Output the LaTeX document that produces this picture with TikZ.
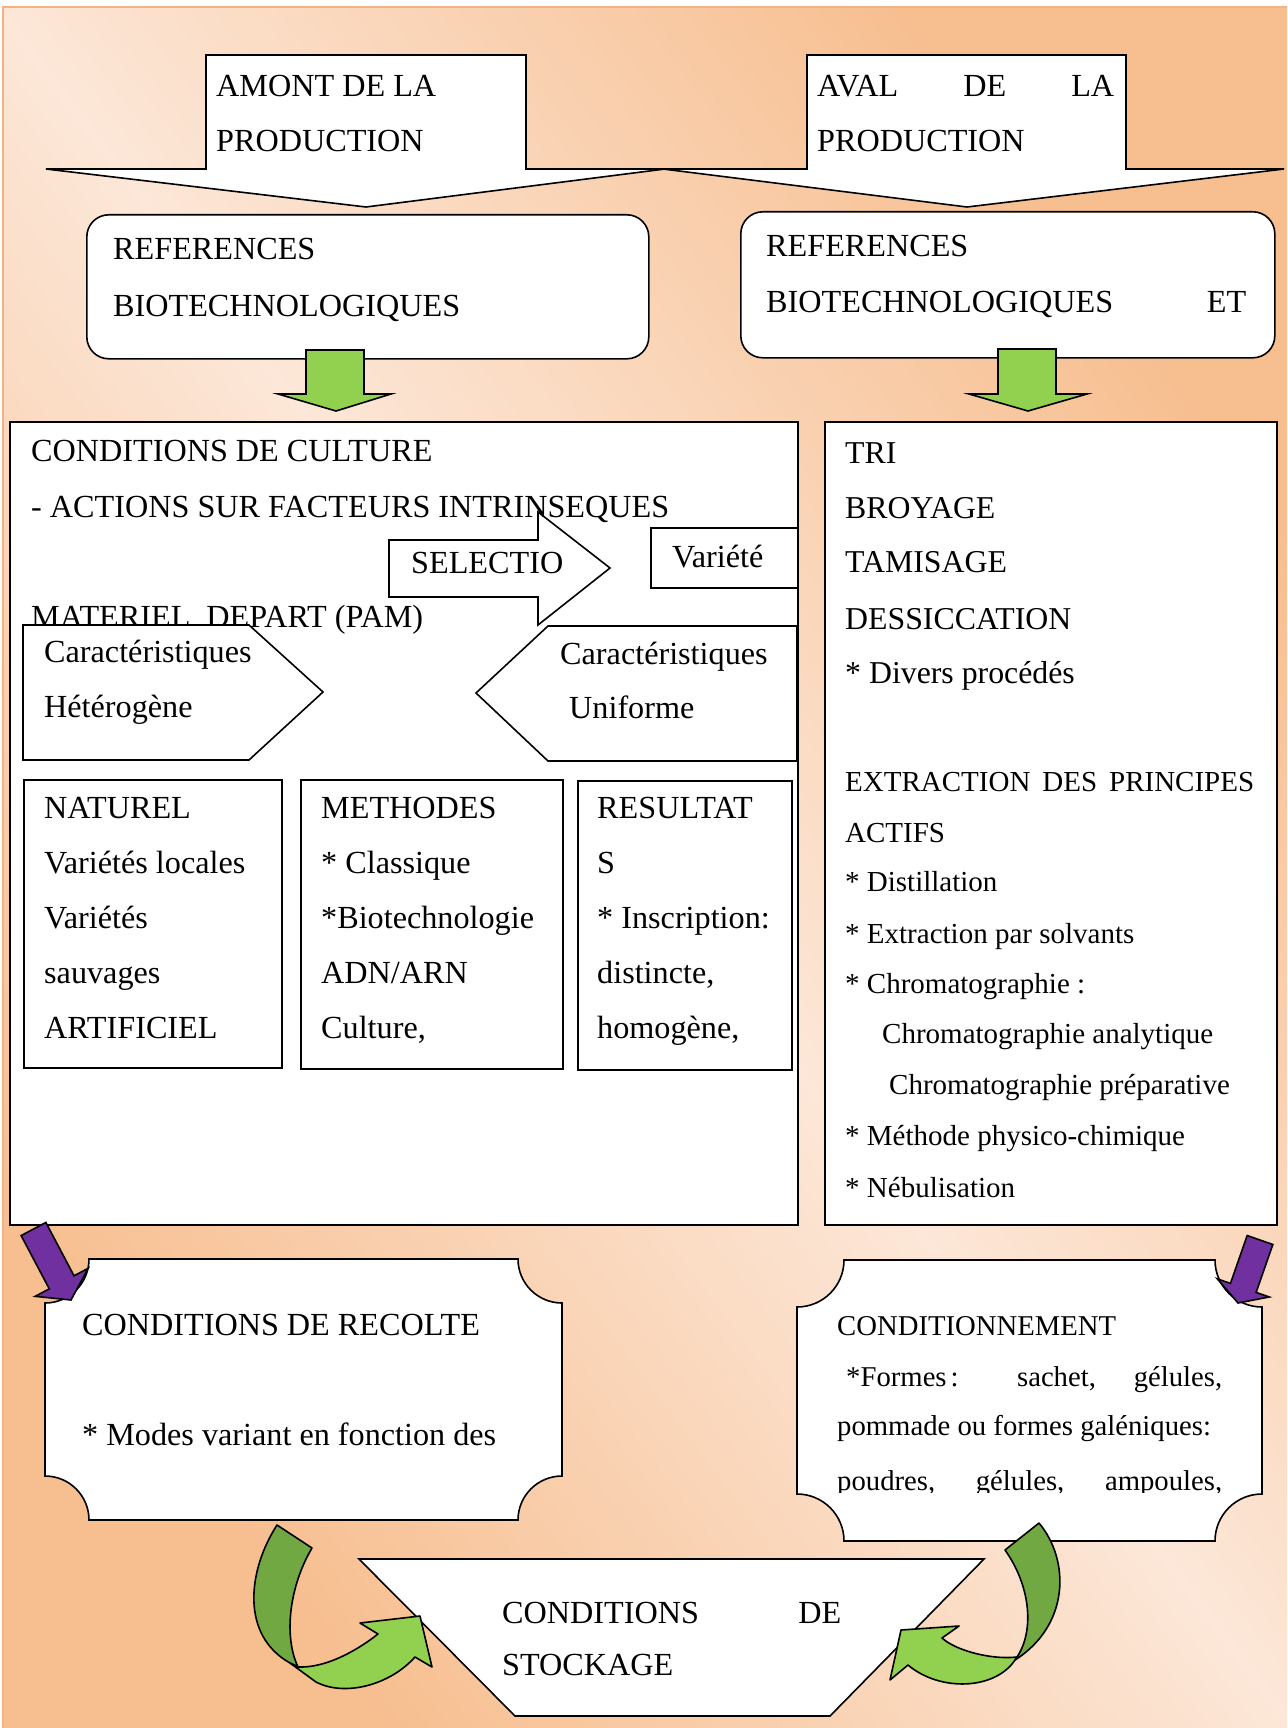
\documentclass[tikz,border=0pt]{standalone}
\usepackage{fontspec}
\setmainfont{Liberation Serif}
\usetikzlibrary{calc}
\definecolor{bgdark}{RGB}{247,190,143}
\definecolor{bglight}{RGB}{252,231,216}
\definecolor{framecol}{RGB}{244,177,131}
\definecolor{lgreen}{RGB}{146,208,80}
\definecolor{dgreen}{RGB}{114,168,66}
\definecolor{purp}{RGB}{112,48,160}

\newcommand\plaque[6][]{%
 \draw[#1] ({#2+#6},#3) -- ({#4-#6},#3)
 .. controls ({#4-#6},{#3+0.5523*#6}) and ({#4-0.5523*#6},{#3+#6}) .. (#4,{#3+#6})
 -- (#4,{#5-#6})
 .. controls ({#4-0.5523*#6},{#5-#6}) and ({#4-#6},{#5-0.5523*#6}) .. ({#4-#6},#5)
 -- ({#2+#6},#5)
 .. controls ({#2+#6},{#5-0.5523*#6}) and ({#2+0.5523*#6},{#5-#6}) .. (#2,{#5-#6})
 -- (#2,{#3+#6})
 .. controls ({#2+0.5523*#6},{#3+#6}) and ({#2+#6},{#3+0.5523*#6}) .. ({#2+#6},#3)
 -- cycle;}

\newcommand\blockarrow[7][]{%
 \coordinate (#2-s) at #3;
 \coordinate (#2-e) at #4;
 \coordinate (#2-h) at ($(#2-e)!#7!(#2-s)$);
 \draw[#1] ($(#2-s)!#5!90:(#2-e)$) -- ($(#2-h)!#5!90:(#2-e)$) -- ($(#2-h)!#6!90:(#2-e)$)
 -- (#2-e) -- ($(#2-h)!#6!-90:(#2-e)$) -- ($(#2-h)!#5!-90:(#2-e)$) -- ($(#2-s)!#5!-90:(#2-e)$) -- cycle;}

\begin{document}
\begin{tikzpicture}[x=1pt,y=-1pt,
 shapeline/.style={draw=black, line width=1.6pt},
 wbox/.style={shapeline, fill=white, inner sep=0pt, anchor=north west},
 tx/.style={anchor=base west, inner sep=0pt, font=\fontsize{32.2}{38}\selectfont},
 txr/.style={tx, font=\fontsize{31.8}{38}\selectfont},
 txs/.style={tx, font=\fontsize{29}{35}\selectfont},
 txc/.style={tx, font=\fontsize{28.7}{34}\selectfont},
]
\useasboundingbox (0,0) rectangle (1287,1728);
\fill[white] (0,0) rectangle (1287,1728);
\shade[top color=bgdark, bottom color=bgdark, middle color=bglight, shading angle=-53] (3,7) rectangle (1287,1728);
\draw[framecol, line width=2pt] (3,1728) -- (3,7) -- (1287,7);

% top arrows
\draw[shapeline, fill=white] (206,55) -- (526,55) -- (526,169) -- (665,169) -- (366,207) -- (46,169) -- (206,169) -- cycle;
\draw[shapeline, fill=white] (807,55) -- (1126,55) -- (1126,169) -- (1284,169) -- (967,207) -- (663,169) -- (807,169) -- cycle;
\node[tx] (amont1) at (216,97) {AMONT DE LA};
\node[tx] (amont2) at (216,152) {PRODUCTION};
\node[tx] (aval1) at (817,97) {\makebox[297pt][s]{AVAL DE LA}};
\node[tx] (aval2) at (817,152) {PRODUCTION};

% references boxes
\node[wbox, rounded corners=22pt, minimum width=562pt, minimum height=144pt] (refL) at (86,214) {};
\node[wbox, rounded corners=22pt, minimum width=534pt, minimum height=146pt] (refR) at (740,211) {};
\node[tx] (refL1) at (113,260) {REFERENCES};
\node[tx] (refL2) at (113,316) {BIOTECHNOLOGIQUES};
\node[tx] (refR1) at (766,257) {REFERENCES};
\node[tx] (refR2) at (766,312) {\makebox[480pt][s]{BIOTECHNOLOGIQUES ET}};

% green down arrows
\draw[shapeline, fill=lgreen] (306,350) -- (364,350) -- (364,394) -- (391,394) -- (336,411) -- (278,394) -- (306,394) -- cycle;
\draw[shapeline, fill=lgreen] (998,349) -- (1056,349) -- (1056,394) -- (1087,394) -- (1028,411) -- (969,394) -- (998,394) -- cycle;

% conditions de culture
\node[wbox, minimum width=788pt, minimum height=803pt] (culture) at (9,421) {};
\draw[shapeline, fill=white] (389,540) -- (538,540) -- (538,512) -- (610,568) -- (538,625) -- (538,597) -- (389,597) -- cycle;
\node[tx] (cc1) at (31,461) {CONDITIONS DE CULTURE};
\node[tx] (cc2) at (31,517) {- ACTIONS SUR FACTEURS INTRINSEQUES};
\node[tx] (cc3) at (31,627) {MATERIEL\hspace{8pt} DEPART (PAM)};
\node[tx] (sel) at (411,573) {SELECTIO};
\node[wbox, minimum width=147pt, minimum height=60pt] (varbox) at (650,527) {};
\node[tx] (var) at (672,567) {Variété};
\draw[shapeline, fill=white] (23,625) -- (249,625) -- (323,692) -- (249,760) -- (23,760) -- cycle;
\node[tx] (carL1) at (44,662) {Caractéristiques};
\node[tx] (carL2) at (44,717) {Hétérogène};
\draw[shapeline, fill=white] (797,626) -- (548,626) -- (476,693) -- (548,761) -- (797,761) -- cycle;
\node[tx] (carR1) at (560,664) {Caractéristiques};
\node[tx] (carR2) at (569,718) {Uniforme};

\node[wbox, minimum width=258pt, minimum height=288pt] (nat) at (23,779) {};
\node[wbox, minimum width=262pt, minimum height=289pt] (meth) at (300,779) {};
\node[wbox, minimum width=214pt, minimum height=289pt] (res) at (577,780) {};
\node[tx] (n1) at (44,818) {NATUREL};
\node[tx] (n2) at (44,873) {Variétés locales};
\node[tx] (n3) at (44,928) {Variétés};
\node[tx] (n4) at (44,983) {sauvages};
\node[tx] (n5) at (44,1038) {ARTIFICIEL};
\node[tx] (m1) at (321,818) {METHODES};
\node[tx] (m2) at (321,873) {* Classique};
\node[tx] (m3) at (321,928) {*Biotechnologie};
\node[tx] (m4) at (321,983) {ADN/ARN};
\node[tx] (m5) at (321,1038) {Culture,};
\node[tx] (r1) at (597,818) {RESULTAT};
\node[tx] (r2) at (597,873) {S};
\node[tx] (r3) at (597,928) {* Inscription:};
\node[tx] (r4) at (597,983) {distincte,};
\node[tx] (r5) at (597,1038) {homogène,};

% right box
\node[wbox, minimum width=452pt, minimum height=803pt] (transfo) at (824,421) {};
\node[txr] (p1) at (845,463) {TRI};
\node[txr] (p2) at (845,518) {BROYAGE};
\node[txr] (p3) at (845,572) {TAMISAGE};
\node[txr] (p4) at (845,629) {DESSICCATION};
\node[txr] (p5) at (845,683) {* Divers procédés};
\node[txs] (e1) at (845,791) {\makebox[409pt][s]{EXTRACTION DES PRINCIPES}};
\node[txs] (e2) at (845,842) {ACTIFS};
\node[txs] (e3) at (845,891) {* Distillation};
\node[txs] (e4) at (845,943) {* Extraction par solvants};
\node[txs] (e5) at (845,993) {* Chromatographie :};
\node[txs] (e6) at (882,1043) {Chromatographie analytique};
\node[txs] (e7) at (889,1094) {Chromatographie préparative};
\node[txs] (e8) at (845,1145) {* Méthode physico-chimique};
\node[txs] (e9) at (845,1197) {* Nébulisation};

% plaques
\plaque[shapeline, fill=white]{45}{1259}{562}{1520}{44}
\plaque[shapeline, fill=white]{797}{1260}{1262}{1541}{47}
\node[tx] (rec1) at (82,1335) {CONDITIONS DE RECOLTE};
\node[tx] (rec2) at (82,1445) {* Modes variant en fonction des};
\node[txc] (cond1) at (837,1335) {CONDITIONNEMENT};
\node[txc] (cond2) at (846,1386) {\makebox[376pt][s]{*Formes\kern4pt: sachet, gélules,}};
\node[txc] (cond3) at (837,1435) {pommade ou formes galéniques:};
\begin{scope}
\clip (797,1450) rectangle (1262,1492);
\node[txc] (cond4) at (837,1490) {\makebox[385pt][s]{poudres, gélules, ampoules,}};
\end{scope}

% stockage
\draw[shapeline, fill=white] (359,1559) -- (984,1559) -- (830,1716) -- (515,1716) -- cycle;
\node[tx] (st1) at (502,1623) {\makebox[339pt][s]{CONDITIONS DE}};
\node[tx] (st2) at (502,1675) {STOCKAGE};

% curved arrows
\draw[shapeline, fill=dgreen, line join=round] (277,1525) -- (312,1548) .. controls (290,1585) and (283,1635) .. (298,1667) -- (290,1663) .. controls (240,1635) and (248,1570) .. (277,1525) -- cycle;
\draw[shapeline, fill=lgreen, line join=round] (290,1663) -- (316,1682) .. controls (345,1697) and (390,1685) .. (415,1657) -- (432,1667) -- (420,1616) -- (360,1623) -- (378,1634) .. controls (355,1652) and (325,1668) .. (298,1667) -- cycle;
\draw[shapeline, fill=dgreen, line join=round] (1005,1550) -- (1039,1523) .. controls (1070,1560) and (1070,1625) .. (1015,1660) -- (1017,1657) .. controls (1035,1630) and (1030,1585) .. (1005,1550) -- cycle;
\draw[shapeline, fill=lgreen, line join=round] (1015,1660) .. controls (995,1690) and (940,1692) .. (908,1665) -- (890,1680) -- (901,1630) -- (959,1626) -- (942,1638) .. controls (955,1650) and (990,1660) .. (1017,1657) -- cycle;

% purple arrows
\blockarrow[shapeline, fill=purp]{pl}{(33.5,1229)}{(71,1300)}{14pt}{30pt}{20pt}
\blockarrow[shapeline, fill=purp]{pr}{(1260,1240)}{(1238,1303)}{13.6pt}{27.5pt}{16pt}
\end{tikzpicture}
\end{document}
